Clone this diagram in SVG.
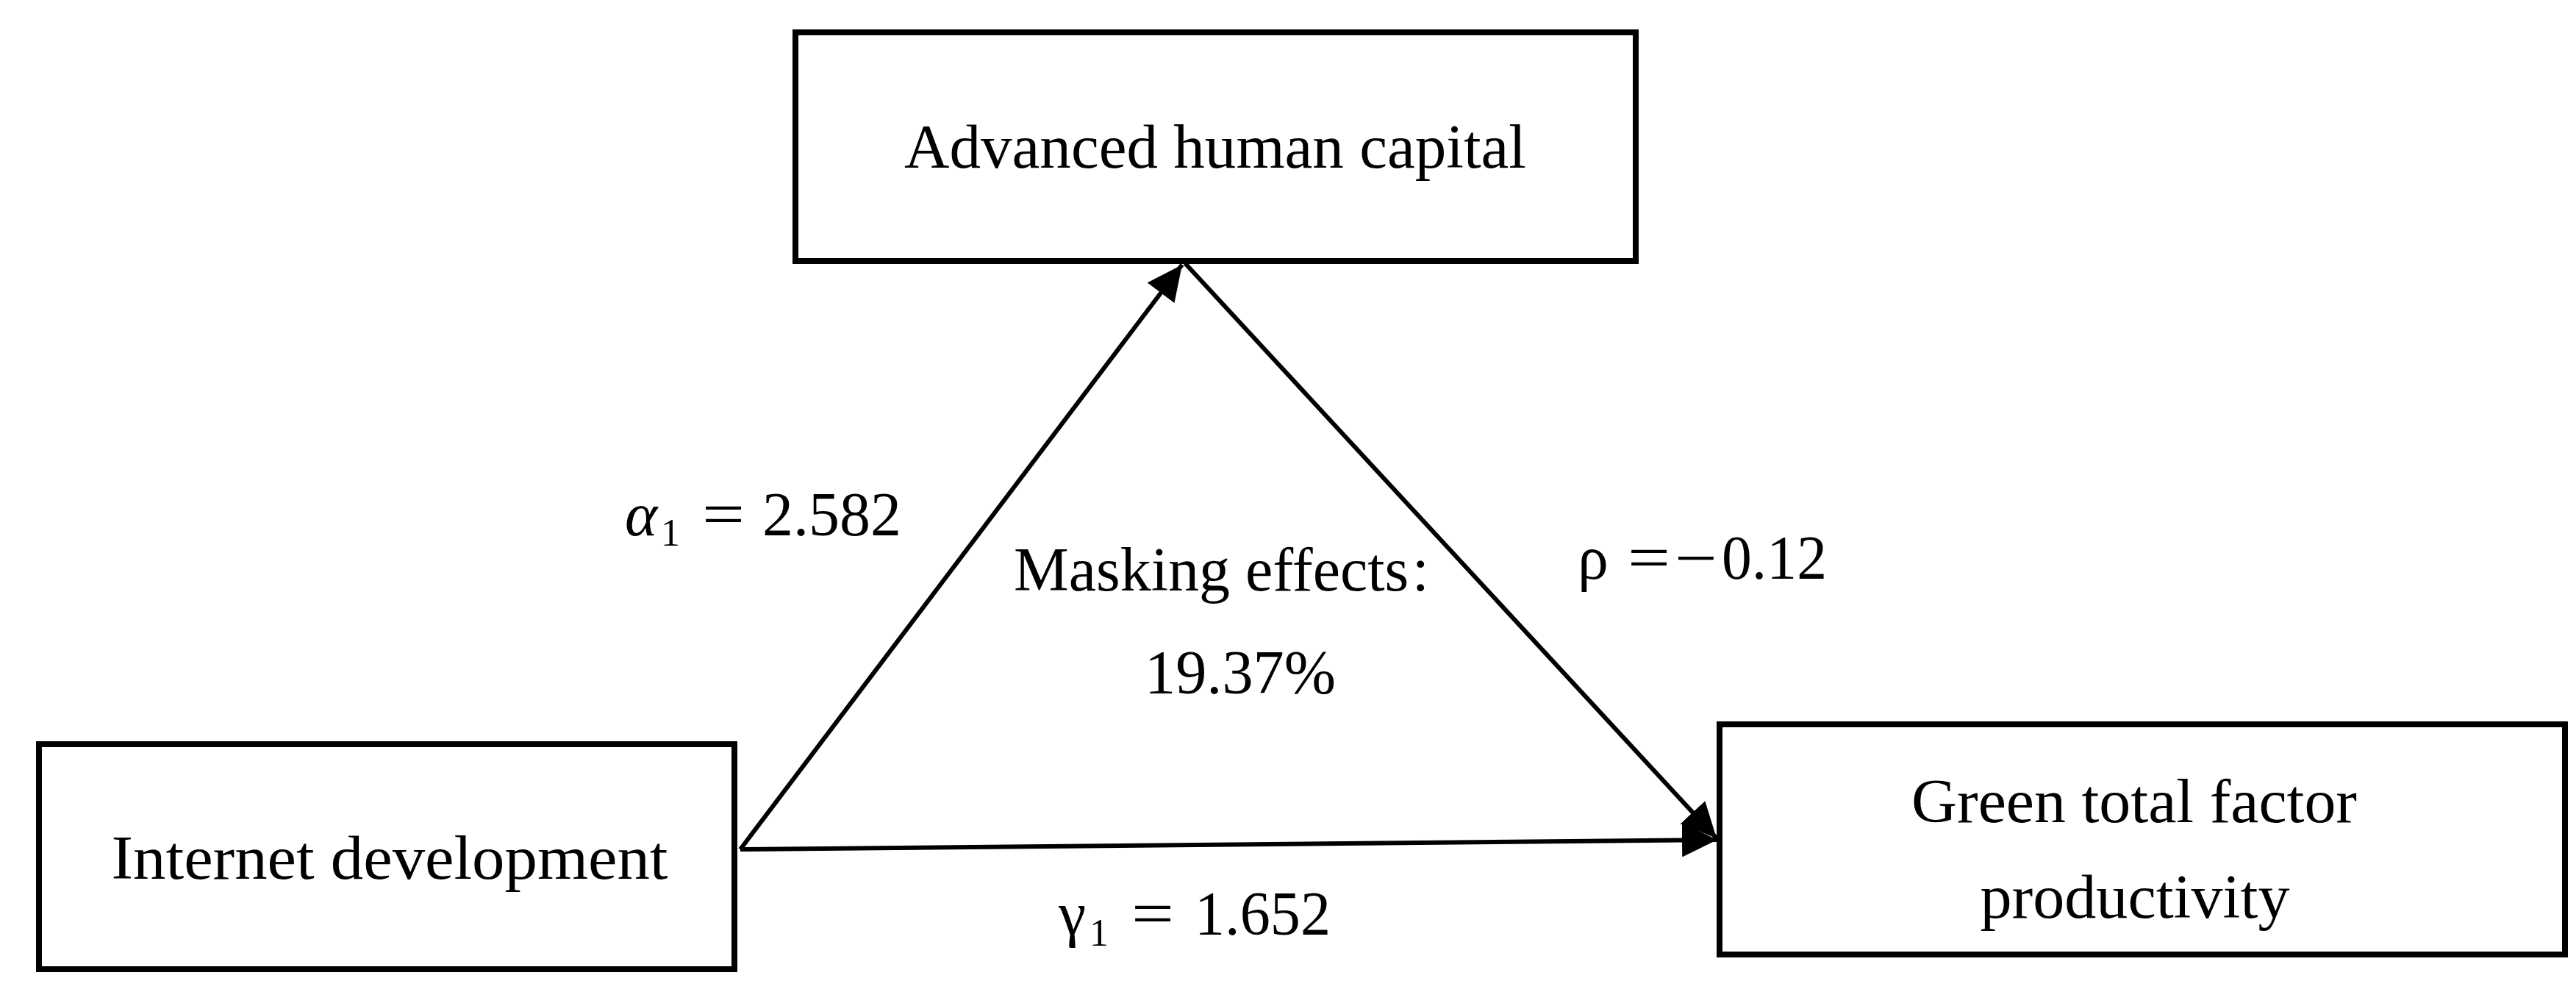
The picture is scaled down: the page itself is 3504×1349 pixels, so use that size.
<svg xmlns="http://www.w3.org/2000/svg" width="3504" height="1349" viewBox="0 0 3504 1349">
  <style>
    .box { fill: #ffffff; stroke: #000000; stroke-width: 8; }
    .lbl { font-family: "Liberation Serif", "Times New Roman", serif; font-size: 84px; fill: #000000; }
    .mid { text-anchor: middle; }
    .conn { stroke: #000000; stroke-width: 6; fill: none; marker-end: url(#arrow); }
    .sub { font-size: 52px; }
  </style>
  <defs>
    <marker id="arrow" markerUnits="userSpaceOnUse" markerWidth="50" markerHeight="46" refX="48" refY="23" orient="auto">
      <path d="M0,0 L48,23 L0,46 Z" fill="#000000"/>
    </marker>
  </defs>
  <rect width="3504" height="1349" fill="#ffffff"/>

  <g id="node-advanced-human-capital">
    <rect class="box" x="1082" y="44" width="1143" height="311"/>
    <text class="lbl mid" x="1653" y="228" textLength="846" lengthAdjust="spacingAndGlyphs">Advanced human capital</text>
  </g>

  <g id="node-internet-development">
    <rect class="box" x="53" y="1012" width="946" height="306"/>
    <text class="lbl mid" x="530" y="1195" textLength="757" lengthAdjust="spacingAndGlyphs">Internet development</text>
  </g>

  <g id="node-green-tfp">
    <rect class="box" x="2339" y="985" width="1150" height="313"/>
    <text class="lbl mid" x="2903" y="1118" textLength="606" lengthAdjust="spacingAndGlyphs">Green total factor</text>
    <text class="lbl mid" x="2904" y="1248" textLength="421" lengthAdjust="spacingAndGlyphs">productivity</text>
  </g>

  <g id="connectors">
    <line class="conn" x1="1007" y1="1155" x2="1608" y2="360"/>
    <line class="conn" x1="1612" y1="358" x2="2335" y2="1140"/>
    <line class="conn" x1="1007" y1="1155" x2="2336" y2="1142"/>
  </g>

  <g id="labels">
    <g id="label-alpha">
      <text class="lbl" x="850" y="728" font-style="italic">α</text>
      <text class="lbl sub" x="899" y="742">1</text>
      <text class="lbl" x="955" y="728" textLength="58" lengthAdjust="spacingAndGlyphs">=</text>
      <text class="lbl" x="1037" y="728" textLength="189" lengthAdjust="spacingAndGlyphs">2.582</text>
    </g>
    <g id="label-rho">
      <text class="lbl" x="2146" y="787" font-family="'Liberation Sans', Arial, sans-serif">ρ</text>
      <text class="lbl" x="2214" y="787" textLength="58" lengthAdjust="spacingAndGlyphs">=</text>
      <text class="lbl" x="2278" y="787" textLength="58" lengthAdjust="spacingAndGlyphs">−</text>
      <text class="lbl" x="2342" y="787" textLength="143" lengthAdjust="spacingAndGlyphs">0.12</text>
    </g>
    <g id="label-gamma">
      <text class="lbl" x="1440" y="1271">γ</text>
      <text class="lbl sub" x="1482" y="1286">1</text>
      <text class="lbl" x="1539" y="1271" textLength="58" lengthAdjust="spacingAndGlyphs">=</text>
      <text class="lbl" x="1625" y="1271" textLength="185" lengthAdjust="spacingAndGlyphs">1.652</text>
    </g>
    <g id="label-masking">
      <text class="lbl" x="1379" y="803">Masking effects<tspan font-family="'Noto Sans CJK SC', sans-serif" font-size="64px">：</tspan></text>
      <text class="lbl" x="1557" y="943" textLength="260" lengthAdjust="spacingAndGlyphs">19.37%</text>
    </g>
  </g>
</svg>
